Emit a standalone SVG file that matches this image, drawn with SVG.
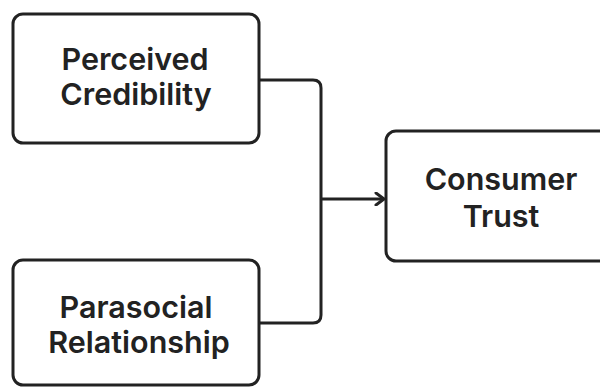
<svg xmlns="http://www.w3.org/2000/svg" width="600" height="387" viewBox="0 0 600 387">
<style>
.box{fill:#fff;stroke:#222;stroke-width:3}
.lbl{font-family:Inter,"Liberation Sans",sans-serif;font-weight:600;font-size:30.5px;fill:#222;text-anchor:middle}
.con{fill:none;stroke:#222;stroke-width:3}
</style>
<defs>
<marker id="arr" markerWidth="12" markerHeight="14" refX="10" refY="7" orient="auto" markerUnits="userSpaceOnUse">
<path d="M2,1 L10,7 L2,13" fill="none" stroke="#222" stroke-width="3" stroke-linecap="round" stroke-linejoin="round"/>
</marker>
</defs>
<rect width="600" height="387" fill="#fff"/>
<g id="connectors">
<path class="con" d="M259,80 H313 Q321,80 321,88 V315 Q321,323 313,323 H259"/>
<path class="con" d="M321,199 H384" marker-end="url(#arr)"/>
</g>
<g id="perceived-credibility">
<rect class="box" x="13" y="14" width="246" height="129" rx="10"/>
<text class="lbl" x="135" y="70">Perceived</text>
<text class="lbl" x="136" y="105">Credibility</text>
</g>
<g id="parasocial-relationship">
<rect class="box" x="13" y="260" width="246" height="125" rx="10"/>
<text class="lbl" x="136" y="318">Parasocial</text>
<text class="lbl" x="139" y="353">Relationship</text>
</g>
<g id="consumer-trust">
<rect class="box" x="386" y="131" width="230" height="130" rx="10"/>
<text class="lbl" x="501" y="190">Consumer</text>
<text class="lbl" x="501" y="227">Trust</text>
</g>
</svg>
